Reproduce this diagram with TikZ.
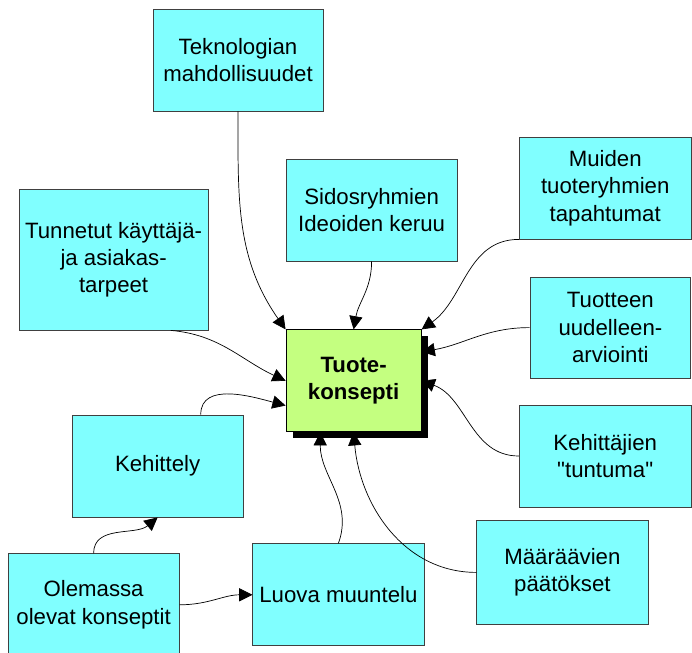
\documentclass[tikz,border=0pt]{standalone}
\usepackage{fontspec}
\setmainfont{Liberation Sans}[Ligatures=TeXOff]
\usetikzlibrary{arrows.meta,shadows}
\definecolor{ideacyan}{HTML}{80FFFF}
\definecolor{coregreen}{HTML}{C4FF80}
\tikzset{
  idea/.style={draw=black!75, fill=ideacyan, line width=0.6pt,
    minimum width=4.28cm, minimum height=2.55cm, inner sep=1pt,
    align=center, font=\fontsize{15.8}{19.4}\selectfont},
  core/.style={idea, draw=black, fill=coregreen, minimum width=3.38cm,
    font=\fontsize{15.8}{19.4}\selectfont\bfseries,
    drop shadow={shadow xshift=0.18cm, shadow yshift=-0.16cm, fill=black, opacity=1}},
  feed/.style={-{Triangle[length=0.33cm,width=0.33cm]}, line width=0.5pt}
}
\begin{document}
\begin{tikzpicture}
  \useasboundingbox (0,0) rectangle (17.3,16.3);
  % ideas around the concept
  \node[idea, minimum width=4.25cm] (tek) at (5.95,14.8) {Teknologian\\mahdollisuudet};
  \node[idea] (sid) at (9.29,11.05) {Sidosryhmien\\Ideoiden keruu};
  \node[idea, minimum width=4.72cm, minimum height=3.52cm] (tun) at (2.84,9.81) {Tunnetut käyttäjä-\\ja asiakas-\\tarpeet};
  \node[idea, minimum width=4.3cm] (mui) at (15.13,11.6) {Muiden\\tuoteryhmien\\tapahtumat};
  \node[idea, minimum width=4.02cm, minimum height=2.52cm] (tuo) at (15.26,8.11) {Tuotteen\\uudelleen-\\arviointi};
  \node[idea, minimum width=4.3cm] (keh) at (15.13,4.9) {Kehittäjien\\"tuntuma"};
  \node[core] (kon) at (8.84,6.78) {Tuote-\\konsepti};
  \node[idea] (kht) at (3.94,4.65) {Kehittely};
  \node[idea] (ole) at (2.34,1.18) {Olemassa\\olevat konseptit};
  \node[idea] (luo) at (8.46,1.43) {Luova muuntelu};
  \node[idea, minimum height=2.58cm] (maa) at (14.06,1.99) {Määräävien\\päätökset};
  % connectors
  \draw[feed] (tek.south) to[out=-90, in=125] (kon.north west);
  \draw[feed] (sid.south) to[out=-90, in=80] (kon.north);
  \draw[feed] (mui.south west) to[out=180, in=35] (kon.north east);
  \draw[feed] (tuo.west) to[out=180, in=10] (kon.23);
  \draw[feed] (keh.west) to[out=180, in=-20] (kon.east);
  \draw[feed] (tun.-51) to[out=-5, in=155] (kon.west);
  \draw[feed] (kht.50) to[out=90, in=165] (kon.200);
  \draw[feed] (ole.north) to[out=90, in=-140] (kht.south);
  \draw[feed] (ole.east) to[out=0, in=180] (luo.west);
  \draw[feed] (luo.north) to[out=70, in=-90] (kon.237);
  \draw[feed] (maa.west) to[out=180, in=-85] (kon.south);
\end{tikzpicture}
\end{document}
